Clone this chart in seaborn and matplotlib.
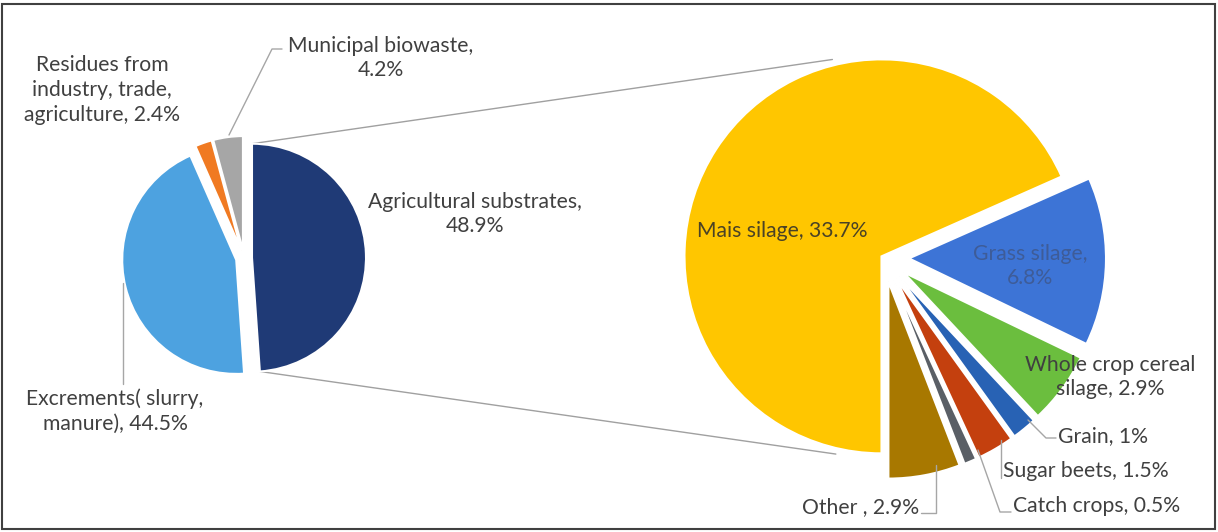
import numpy as np
import matplotlib
matplotlib.use("Agg")
import matplotlib.pyplot as plt
from matplotlib.patches import Rectangle
import seaborn as sns

# Biogas substrate mix (share of energy, %)
main_names = ["Agricultural substrates,\n", "Excrements( slurry,\nmanure), ",
              "Residues from\nindustry, trade,\nagriculture, ", "Municipal biowaste,\n"]
main_values = [48.9, 44.5, 2.4, 4.2]
main_colors = ["#1F3A76", "#4DA2E0", "#F07A22", "#A6A6A6"]

# Breakdown of the agricultural substrates
sub_names = ["Mais silage, ", "Grass silage,\n", "Whole crop cereal\nsilage, ", "Grain, ",
             "Sugar beets, ", "Catch crops, ", "Other , "]
sub_values = [33.7, 6.8, 2.9, 1, 1.5, 0.5, 2.9]
sub_colors = ["#FFC600", "#3D74D6", "#6BBE3E", "#2862B4", "#C4400E", "#5A5F66", "#A87800"]

sns.set_theme(style="white")
plt.rcParams['font.family'] = ['Lato', 'DejaVu Sans']

W, H = 1218, 532
TXT = "#404040"
LEAD = "#A6A6A6"

fig = plt.figure(figsize=(W / 100, H / 100), dpi=100)
ax = fig.add_axes([0, 0, 1, 1])


def Y(y):
    # picture rows run downwards, axes run upwards
    return H - y


# left pie (explode is in data units = pixels here)
lc, lr = (244, Y(258)), 114
left_wedges, _ = ax.pie(main_values, colors=sns.color_palette(main_colors), startangle=90,
                        counterclock=False, center=lc, radius=lr, explode=[8] * 4,
                        wedgeprops=dict(edgecolor="white", linewidth=1.5), frame=True)

# right pie
rc, rr = (884, Y(258)), 197
right_wedges, _ = ax.pie(sub_values, colors=sns.color_palette(sub_colors), startangle=270,
                         counterclock=False, center=rc, radius=rr,
                         explode=[3, 25, 24, 24, 24, 24, 24],
                         wedgeprops=dict(edgecolor="white", linewidth=1.5), frame=True)

# connector lines from the agricultural slice to the second pie
agri = left_wedges[0]
mais = right_wedges[0]
for ang_l, ang_r in [(agri.theta2, 104), (agri.theta1, -103)]:
    x0 = agri.center[0] + agri.r * np.cos(np.radians(ang_l))
    y0 = agri.center[1] + agri.r * np.sin(np.radians(ang_l))
    x1 = mais.center[0] + mais.r * 1.03 * np.cos(np.radians(ang_r))
    y1 = mais.center[1] + mais.r * 1.03 * np.sin(np.radians(ang_r))
    ax.plot([x0, x1], [y0, y1], color="#A0A0A0", lw=1, zorder=0)


def pct(v):
    return f"{v:g}%"


fs = 15.2
ls = 1.3
# left labels
ax.text(475, Y(214), main_names[0] + pct(main_values[0]), ha="center", va="center",
        fontsize=fs, color=TXT, linespacing=ls)
ax.text(115, Y(411), main_names[1] + pct(main_values[1]), ha="center", va="center",
        fontsize=fs, color=TXT, linespacing=ls)
ax.text(102, Y(90), main_names[2] + pct(main_values[2]), ha="center", va="center",
        fontsize=fs, color=TXT, linespacing=ls)
ax.text(381, Y(58), main_names[3] + pct(main_values[3]), ha="center", va="center",
        fontsize=fs, color=TXT, linespacing=ls)

# right labels
ax.text(782, Y(231), sub_names[0] + pct(sub_values[0]), ha="center", va="center",
        fontsize=fs, color="#4A4226")
ax.text(1030, Y(266), sub_names[1] + pct(sub_values[1]), ha="center", va="center",
        fontsize=fs, color="#3E5C98", linespacing=ls)
ax.text(1110, Y(377), sub_names[2] + pct(sub_values[2]), ha="center", va="center",
        fontsize=fs, color=TXT, linespacing=ls)
ax.text(1058, Y(436), sub_names[3] + pct(sub_values[3]), ha="left", va="center",
        fontsize=fs, color=TXT)
ax.text(1003, Y(471), sub_names[4] + pct(sub_values[4]), ha="left", va="center",
        fontsize=fs, color=TXT)
ax.text(1013, Y(506), sub_names[5] + pct(sub_values[5]), ha="left", va="center",
        fontsize=fs, color=TXT)
ax.text(919, Y(507), sub_names[6] + pct(sub_values[6]), ha="right", va="center",
        fontsize=fs, color=TXT)

# leader lines
leaders = [
    [(229, 135), (272, 49), (282, 49)],
    [(123, 283), (123, 384)],
    [(1028, 420), (1046, 438), (1056, 438)],
    [(1001, 440), (1001, 478)],
    [(978, 450), (1000, 512), (1011, 512)],
    [(936, 465), (936, 513), (921, 513)],
]
for pts in leaders:
    xs = [p[0] for p in pts]
    ys = [Y(p[1]) for p in pts]
    ax.plot(xs, ys, color=LEAD, lw=1, zorder=1)

ax.set_xlim(0, W)
ax.set_ylim(0, H)
ax.set_aspect("equal")
ax.axis("off")

# outer frame
fig.patches.append(Rectangle((2, 3), W - 5, H - 7, transform=None, fill=False,
                             edgecolor="#404040", lw=1.5))

fig.savefig("out.png", dpi=100)
